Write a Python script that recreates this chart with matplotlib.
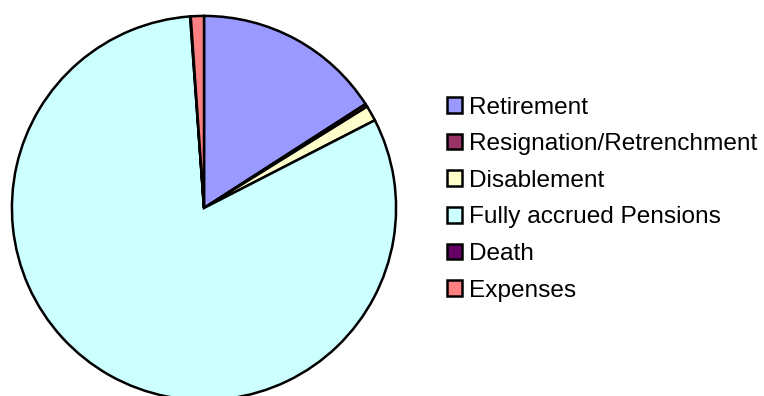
import matplotlib
matplotlib.use("Agg")
import matplotlib.pyplot as plt

# Share of total liability by benefit type (%)
labels = ["Retirement", "Resignation/Retrenchment", "Disablement",
          "Fully accrued Pensions", "Death", "Expenses"]
values = [15.9, 0.25, 1.3, 81.4, 0.05, 1.1]
colors = ["#9999FF", "#993366", "#FFFFCC", "#CCFFFF", "#660066", "#FF8080"]

W, H = 764, 396
fig = plt.figure(figsize=(W / 100, H / 100), dpi=100)
fig.patch.set_facecolor("white")

cx, cy, r = 204, 208, 194
ax = fig.add_axes([(cx - r) / W, (H - cy - r) / H, 2 * r / W, 2 * r / H])
wedges, _ = ax.pie(values, colors=colors, startangle=90, counterclock=False,
                   radius=1.0,
                   wedgeprops=dict(edgecolor="black", linewidth=1.8))
ax.set_xlim(-1.01, 1.01)
ax.set_ylim(-1.01, 1.01)
ax.set_aspect("equal")
ax.axis("off")
for w in wedges:
    w.set_clip_on(False)

leg = fig.legend(wedges, labels, loc="upper left",
                 bbox_to_anchor=(447 / W, 1 - 96.5 / H),
                 frameon=False, prop={"family": "Liberation Sans", "size": 17.6},
                 handlelength=0.6, handleheight=0.6, handletextpad=0.32,
                 labelspacing=0.6, borderpad=0.0, borderaxespad=0.0)
for h in leg.legend_handles:
    h.set_linewidth(1.8)
    h.set_edgecolor("black")

fig.savefig("out.png", dpi=100, facecolor="white")
